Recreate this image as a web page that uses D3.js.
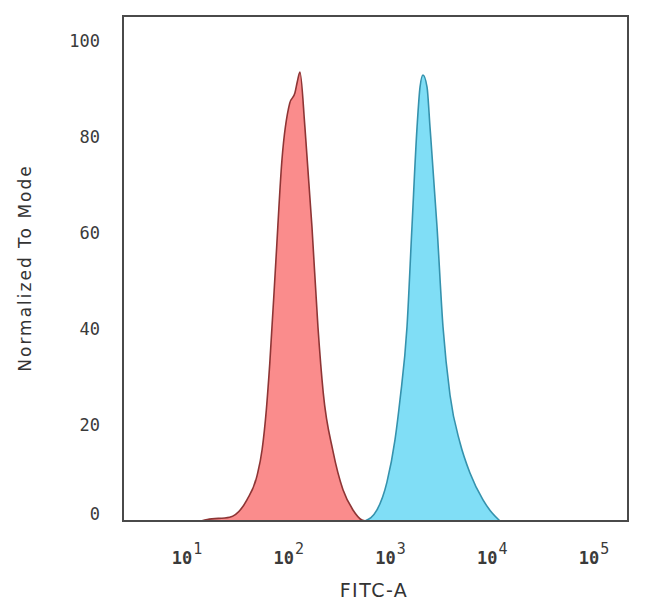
<!DOCTYPE html>
<html>
<meta charset="utf-8">
<title>FITC-A histogram</title>
<style>
  body { margin: 0; background: #fff; }
  .tick-label { font-family: "DejaVu Sans Mono", monospace; fill: #3a3a3a; }
  .axis-title { font-family: "DejaVu Sans", sans-serif; fill: #333; }
</style>
<script src="https://d3js.org/d3.v7.min.js"></script>
<body>
<script>
// log10(FITC-A) positions and normalized-to-mode values
var redLog = [1.10, 1.16, 1.38, 1.55, 1.65, 1.70, 1.74, 1.775, 1.835, 1.894, 1.97, 2.022, 2.045, 2.071, 2.12, 2.189, 2.248, 2.30, 2.395, 2.494, 2.592, 2.68, 2.72];
var redVal = [0, 0.3, 0.8, 4.4, 9.5, 15, 23, 33, 54.4, 75.2, 87, 89.2, 91.5, 93.5, 82, 61.3, 40.4, 26.7, 14.6, 6.5, 2.3, 0.2, 0];

var blueLog = [2.71, 2.828, 2.926, 3.005, 3.054, 3.123, 3.172, 3.222, 3.251, 3.280, 3.320, 3.349, 3.418, 3.477, 3.546, 3.644, 3.742, 3.870, 3.958, 4.037];
var blueVal = [0, 2.3, 8.1, 16.9, 25.2, 40.4, 61.3, 82.1, 90.4, 92.9, 90.4, 82.1, 61.3, 40.4, 26.2, 16.3, 10, 4.4, 1.7, 0];

var yTicks = [0, 20, 40, 60, 80, 100];
var xTickExp = [1, 2, 3, 4, 5];

var width = 650, height = 613;
var plotL = 123, plotR = 628, plotT = 16, plotB = 521;

var x = d3.scaleLog().domain([Math.pow(10, 0.332), Math.pow(10, 5.295)]).range([plotL, plotR]);
var y = d3.scaleLinear().domain([0, 105.2]).range([plotB, plotT]);

var svg = d3.select("body").append("svg")
    .attr("width", width)
    .attr("height", height);

function series(logs, vals) {
  return logs.map(function(l, i) { return { v: Math.pow(10, l), n: vals[i] }; });
}

var area = d3.area()
    .x(function(d) { return x(d.v); })
    .y0(y(0))
    .y1(function(d) { return y(d.n); })
    .curve(d3.curveMonotoneX);

var line = d3.line()
    .x(function(d) { return x(d.v); })
    .y(function(d) { return y(d.n); })
    .curve(d3.curveMonotoneX);

var hists = [
  { data: series(redLog, redVal), fill: "#fa8c8c", stroke: "#8e3535" },
  { data: series(blueLog, blueVal), fill: "#80def6", stroke: "#3592ad" }
];

hists.forEach(function(h) {
  svg.append("path")
      .datum(h.data)
      .attr("d", area)
      .attr("fill", h.fill);
  svg.append("path")
      .datum(h.data)
      .attr("d", line)
      .attr("fill", "none")
      .attr("stroke", h.stroke)
      .attr("stroke-width", 1.6);
});

// frame
svg.append("rect")
    .attr("x", plotL)
    .attr("y", plotT)
    .attr("width", plotR - plotL)
    .attr("height", plotB - plotT)
    .attr("fill", "none")
    .attr("stroke", "#4a4a4a")
    .attr("stroke-width", 2);

// y tick labels (0 is nudged up like the original)
svg.selectAll(".ylab")
    .data(yTicks)
  .enter().append("text")
    .attr("class", "tick-label")
    .attr("x", 100)
    .attr("y", function(d) { return d === 0 ? y(d) - 7 : y(d); })
    .attr("dy", "0.36em")
    .attr("text-anchor", "end")
    .style("font-size", "17px")
    .text(function(d) { return d; });

// x tick labels 10^n
var xl = svg.selectAll(".xlab")
    .data(xTickExp)
  .enter().append("text")
    .attr("class", "tick-label")
    .attr("x", function(d) { return x(Math.pow(10, d)) - 4; })
    .attr("y", 564)
    .attr("text-anchor", "middle")
    .style("font-size", "17px")
    .style("font-weight", "bold");
xl.append("tspan").text("10");
xl.append("tspan")
    .attr("dy", -10)
    .attr("dx", 1)
    .style("font-size", "15px")
    .style("font-weight", "normal")
    .text(function(d) { return d; });

svg.append("text")
    .attr("class", "axis-title")
    .attr("x", 374)
    .attr("y", 597)
    .attr("text-anchor", "middle")
    .style("font-size", "19px")
    .style("letter-spacing", "1.5px")
    .text("FITC-A");

svg.append("text")
    .attr("class", "axis-title")
    .attr("transform", "translate(31,268) rotate(-90)")
    .attr("text-anchor", "middle")
    .style("font-size", "17px")
    .style("letter-spacing", "2px")
    .text("Normalized To Mode");
</script>
</body>
</html>
